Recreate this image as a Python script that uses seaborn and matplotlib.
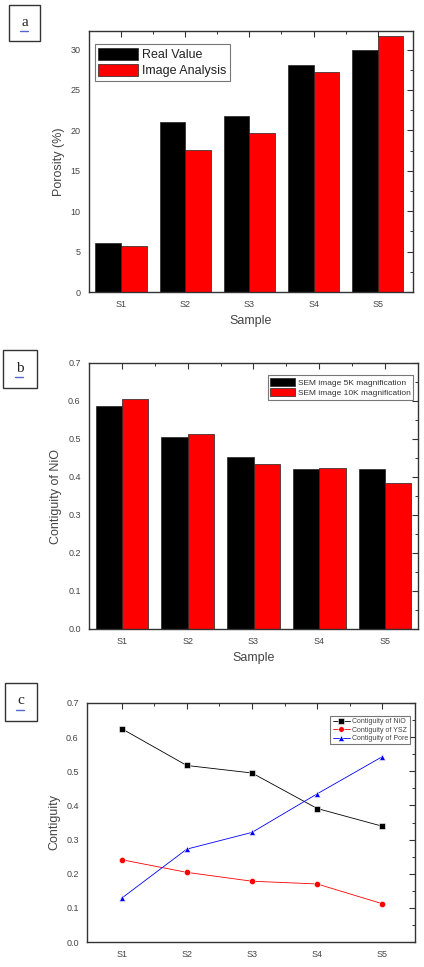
import matplotlib
matplotlib.use("Agg")
import matplotlib.pyplot as plt
from matplotlib.lines import Line2D
from matplotlib.patches import Rectangle
import seaborn as sns
import pandas as pd

samples = ["S1", "S2", "S3", "S4", "S5"]

# Panel a
porosity_real = [6.1, 21.1, 21.8, 28.1, 29.9]
porosity_image = [5.7, 17.6, 19.7, 27.2, 31.7]
a_series = ["Real Value", "Image Analysis"]

# Panel b
contig_5k = [0.588, 0.505, 0.453, 0.421, 0.420]
contig_10k = [0.606, 0.514, 0.433, 0.423, 0.383]
b_series = ["SEM image 5K magnification", "SEM image 10K magnification"]

# Panel c
contig_nio = [0.625, 0.517, 0.495, 0.391, 0.339]
contig_ysz = [0.241, 0.204, 0.178, 0.170, 0.112]
contig_pore = [0.128, 0.272, 0.321, 0.434, 0.543]
c_series = ["Contiguity of NiO", "Contiguity of YSZ", "Contiguity of Pore"]

sns.set_theme(style="white")
plt.rcParams['font.family'] = ['Liberation Sans', 'DejaVu Sans']

W, H = 424, 967
fig = plt.figure(figsize=(W / 100, H / 100), dpi=100)
fig.patch.set_facecolor("white")

TXT = "#444444"
SPC = "#333333"


def ax_at(l, t, r, b):
    return fig.add_axes([l / W, 1 - b / H, (r - l) / W, (b - t) / H])


def style_axes(ax, ymajor, yminor):
    for s in ax.spines.values():
        s.set_visible(True)
        s.set_color(SPC)
        s.set_linewidth(1.0)
    xmajor = list(range(5))
    xminor = [0.5, 1.5, 2.5, 3.5]
    ax.set_yticks(ymajor)
    ax.set_yticks(yminor, minor=True)
    ax.set_xticks(xmajor)
    ax.set_xticks(xminor, minor=True)
    ax.tick_params(axis="both", which="major", direction="out", length=4, width=0.8,
                   color=SPC, labelsize=6.5, labelcolor=TXT, pad=2)
    ax.tick_params(axis="both", which="minor", direction="out", length=2.5, width=0.7,
                   color=SPC)
    # mirrored inward ticks on top and right
    top = ax.secondary_xaxis("top")
    top.set_xticks(xmajor)
    top.set_xticks(xminor, minor=True)
    top.tick_params(which="major", direction="in", length=4, width=0.8, color=SPC,
                    labeltop=False)
    top.tick_params(which="minor", direction="in", length=2.5, width=0.7, color=SPC)
    top.spines["top"].set_visible(False)
    right = ax.secondary_yaxis("right")
    right.set_yticks(ymajor)
    right.set_yticks(yminor, minor=True)
    right.tick_params(which="major", direction="in", length=4, width=0.8, color=SPC,
                      labelright=False)
    right.tick_params(which="minor", direction="in", length=2.5, width=0.7, color=SPC)
    right.spines["right"].set_visible(False)


def label_box(x0, y0, x1, y1, letter):
    fig.add_artist(Rectangle((x0 / W, 1 - y1 / H), (x1 - x0) / W, (y1 - y0) / H,
                             transform=fig.transFigure, fill=False,
                             edgecolor="#333333", linewidth=1.0))
    cx = (x0 + x1) / 2
    cy = (y0 + y1) / 2
    fig.text(cx / W, 1 - (cy - 1) / H, letter, ha="center", va="center",
             fontsize=11, family=["Liberation Serif", "DejaVu Serif"], color="#222222")
    fig.add_artist(Line2D([(cx - 5) / W, (cx + 3) / W], [1 - (cy + 8) / H] * 2,
                          transform=fig.transFigure, color="#5566cc", linewidth=1.0))


pal2 = ["#000000", "#ff0000"]

# ---------- Panel a ----------
ax = ax_at(89, 31, 413, 292)
df_a = pd.DataFrame({
    "Sample": samples * 2,
    "val": porosity_real + porosity_image,
    "series": [a_series[0]] * 5 + [a_series[1]] * 5,
})
sns.barplot(data=df_a, x="Sample", y="val", hue="series", palette=pal2, ax=ax,
            width=0.8, edgecolor="#222222", linewidth=0.5, saturation=1)
ax.set_xlim(-0.5, 4.55)
ax.set_ylim(0, 32.3)
style_axes(ax, [0, 5, 10, 15, 20, 25, 30], [2.5, 7.5, 12.5, 17.5, 22.5, 27.5])
ax.set_xlabel("Sample", fontsize=9, color=TXT, labelpad=4)
ax.set_ylabel("Porosity (%)", fontsize=9, color=TXT, labelpad=4)
leg = ax.legend(loc="upper left", bbox_to_anchor=(0.01, 0.96), fontsize=9,
                frameon=True, fancybox=False, edgecolor="#555555",
                handlelength=3.2, handleheight=1.1, handletextpad=0.3,
                borderpad=0.3, labelspacing=0.25, borderaxespad=0.2)
leg.get_frame().set_linewidth(0.8)
for t in leg.get_texts():
    t.set_color("#222222")

# ---------- Panel b ----------
ax = ax_at(89, 363, 418, 629)
df_b = pd.DataFrame({
    "Sample": samples * 2,
    "val": contig_5k + contig_10k,
    "series": [b_series[0]] * 5 + [b_series[1]] * 5,
})
sns.barplot(data=df_b, x="Sample", y="val", hue="series", palette=pal2, ax=ax,
            width=0.8, edgecolor="#222222", linewidth=0.5, saturation=1)
ax.set_xlim(-0.5, 4.5)
ax.set_ylim(0, 0.7)
yt = [0.0, 0.1, 0.2, 0.3, 0.4, 0.5, 0.6, 0.7]
style_axes(ax, yt, [0.05, 0.15, 0.25, 0.35, 0.45, 0.55, 0.65])
ax.set_yticklabels([f"{v:.1f}" for v in yt])
ax.set_xlabel("Sample", fontsize=9, color=TXT, labelpad=4)
ax.set_ylabel("Contiguity of NiO", fontsize=9, color=TXT, labelpad=4)
leg = ax.legend(loc="upper right", bbox_to_anchor=(0.99, 0.96), fontsize=6,
                frameon=True, fancybox=False, edgecolor="#555555",
                handlelength=3.0, handleheight=1.1, handletextpad=0.3,
                borderpad=0.3, labelspacing=0.2, borderaxespad=0.2)
leg.get_frame().set_linewidth(0.8)
for t in leg.get_texts():
    t.set_color("#333333")

# ---------- Panel c ----------
ax = ax_at(87, 703, 415, 942)
df_c = pd.DataFrame({
    "Sample": samples * 3,
    "val": contig_nio + contig_ysz + contig_pore,
    "series": [c_series[0]] * 5 + [c_series[1]] * 5 + [c_series[2]] * 5,
})
line_cols = {c_series[0]: "#000000", c_series[1]: "#ff0000", c_series[2]: "#0000ff"}
line_marks = {c_series[0]: "s", c_series[1]: "o", c_series[2]: "^"}
sns.lineplot(data=df_c, x="Sample", y="val", hue="series", style="series",
             palette=line_cols, markers=line_marks, dashes=False, ax=ax,
             linewidth=0.6, markersize=4.5, markeredgewidth=0.4, sort=False)
ax.set_xlim(-0.53, 4.5)
ax.set_ylim(0, 0.7)
style_axes(ax, yt, [0.05, 0.15, 0.25, 0.35, 0.45, 0.55, 0.65])
ax.set_yticklabels([f"{v:.1f}" for v in yt])
ax.set_xlabel("")
ax.set_ylabel("Contiguity", fontsize=9, color=TXT, labelpad=4)
leg = ax.legend(loc="upper right", bbox_to_anchor=(0.99, 0.95), fontsize=5,
                frameon=True, fancybox=False, edgecolor="#555555",
                handlelength=2.5, handletextpad=0.3, markerscale=0.9,
                borderpad=0.3, labelspacing=0.2, borderaxespad=0.2)
leg.get_frame().set_linewidth(0.8)
for t in leg.get_texts():
    t.set_color("#444444")

label_box(9, 5, 40, 41, "a")
label_box(3, 350, 37, 388, "b")
label_box(5, 683, 37, 721, "c")

fig.savefig("out.png", dpi=100)
